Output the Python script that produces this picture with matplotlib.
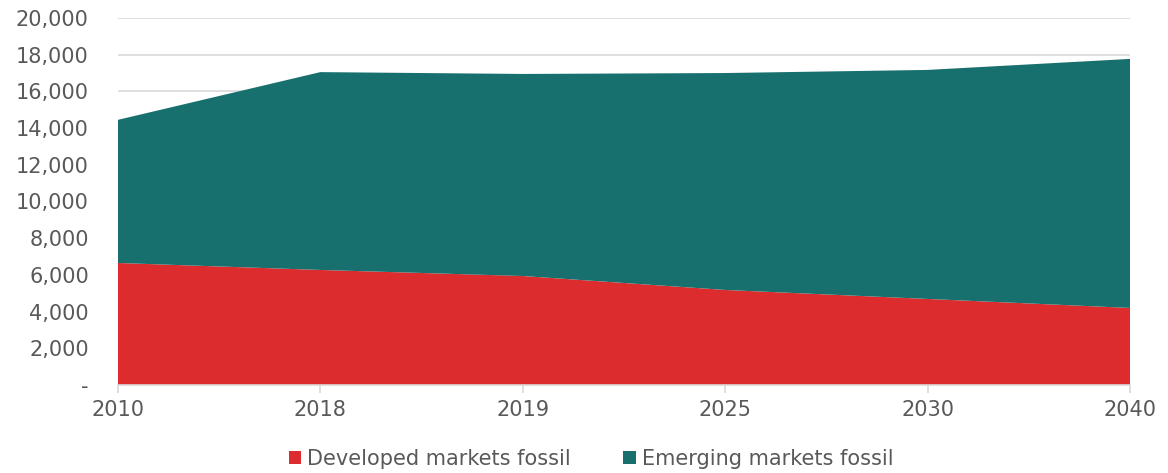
import numpy as np
import matplotlib
matplotlib.use("Agg")
import matplotlib.pyplot as plt
import matplotlib.ticker as mticker

years = ["2010", "2018", "2019", "2025", "2030", "2040"]
developed = [6650, 6270, 5940, 5180, 4690, 4200]
emerging = [7800, 10780, 11010, 11820, 12480, 13570]

RED = "#DC2C2E"
TEAL = "#18706E"
GREY_TXT = "#595959"
GRID = "#D9D9D9"

plt.rcParams.update({"font.family": ["DejaVu Sans"], "font.size": 15})

fig = plt.figure(figsize=(11.68, 4.73), dpi=100)
ax = fig.add_axes([0.101, 0.186, 0.8665, 0.776])

x = np.arange(len(years))
ax.stackplot(x, developed, emerging, colors=[RED, TEAL],
             labels=["Developed markets fossil", "Emerging markets fossil"],
             linewidth=0)

ax.set_xlim(0, len(years) - 1)
ax.set_ylim(0, 20000)
ax.set_xticks(x)
ax.set_xticklabels(years)
ax.set_yticks(np.arange(0, 20001, 2000))
ax.yaxis.set_major_formatter(mticker.FuncFormatter(
    lambda v, _: "-" if v == 0 else f"{v:,.0f}"))

ax.grid(axis="y", color=GRID, linewidth=1.2)
ax.set_axisbelow(True)
for s in ["top", "right", "left"]:
    ax.spines[s].set_visible(False)
ax.spines["bottom"].set_color(GRID)
ax.spines["bottom"].set_linewidth(1.2)
ax.tick_params(axis="y", length=0, pad=21, labelcolor=GREY_TXT, labelsize=15)
ax.tick_params(axis="x", length=6, width=1.2, color=GRID,
               labelcolor=GREY_TXT, labelsize=15, pad=5)

fig.legend(loc="center", bbox_to_anchor=(0.506, 0.03), ncol=2,
           frameon=False, fontsize=15, labelcolor=GREY_TXT,
           handlelength=0.6, handleheight=0.6, handletextpad=0.3,
           columnspacing=2.5)

fig.savefig("out.png", dpi=100)
